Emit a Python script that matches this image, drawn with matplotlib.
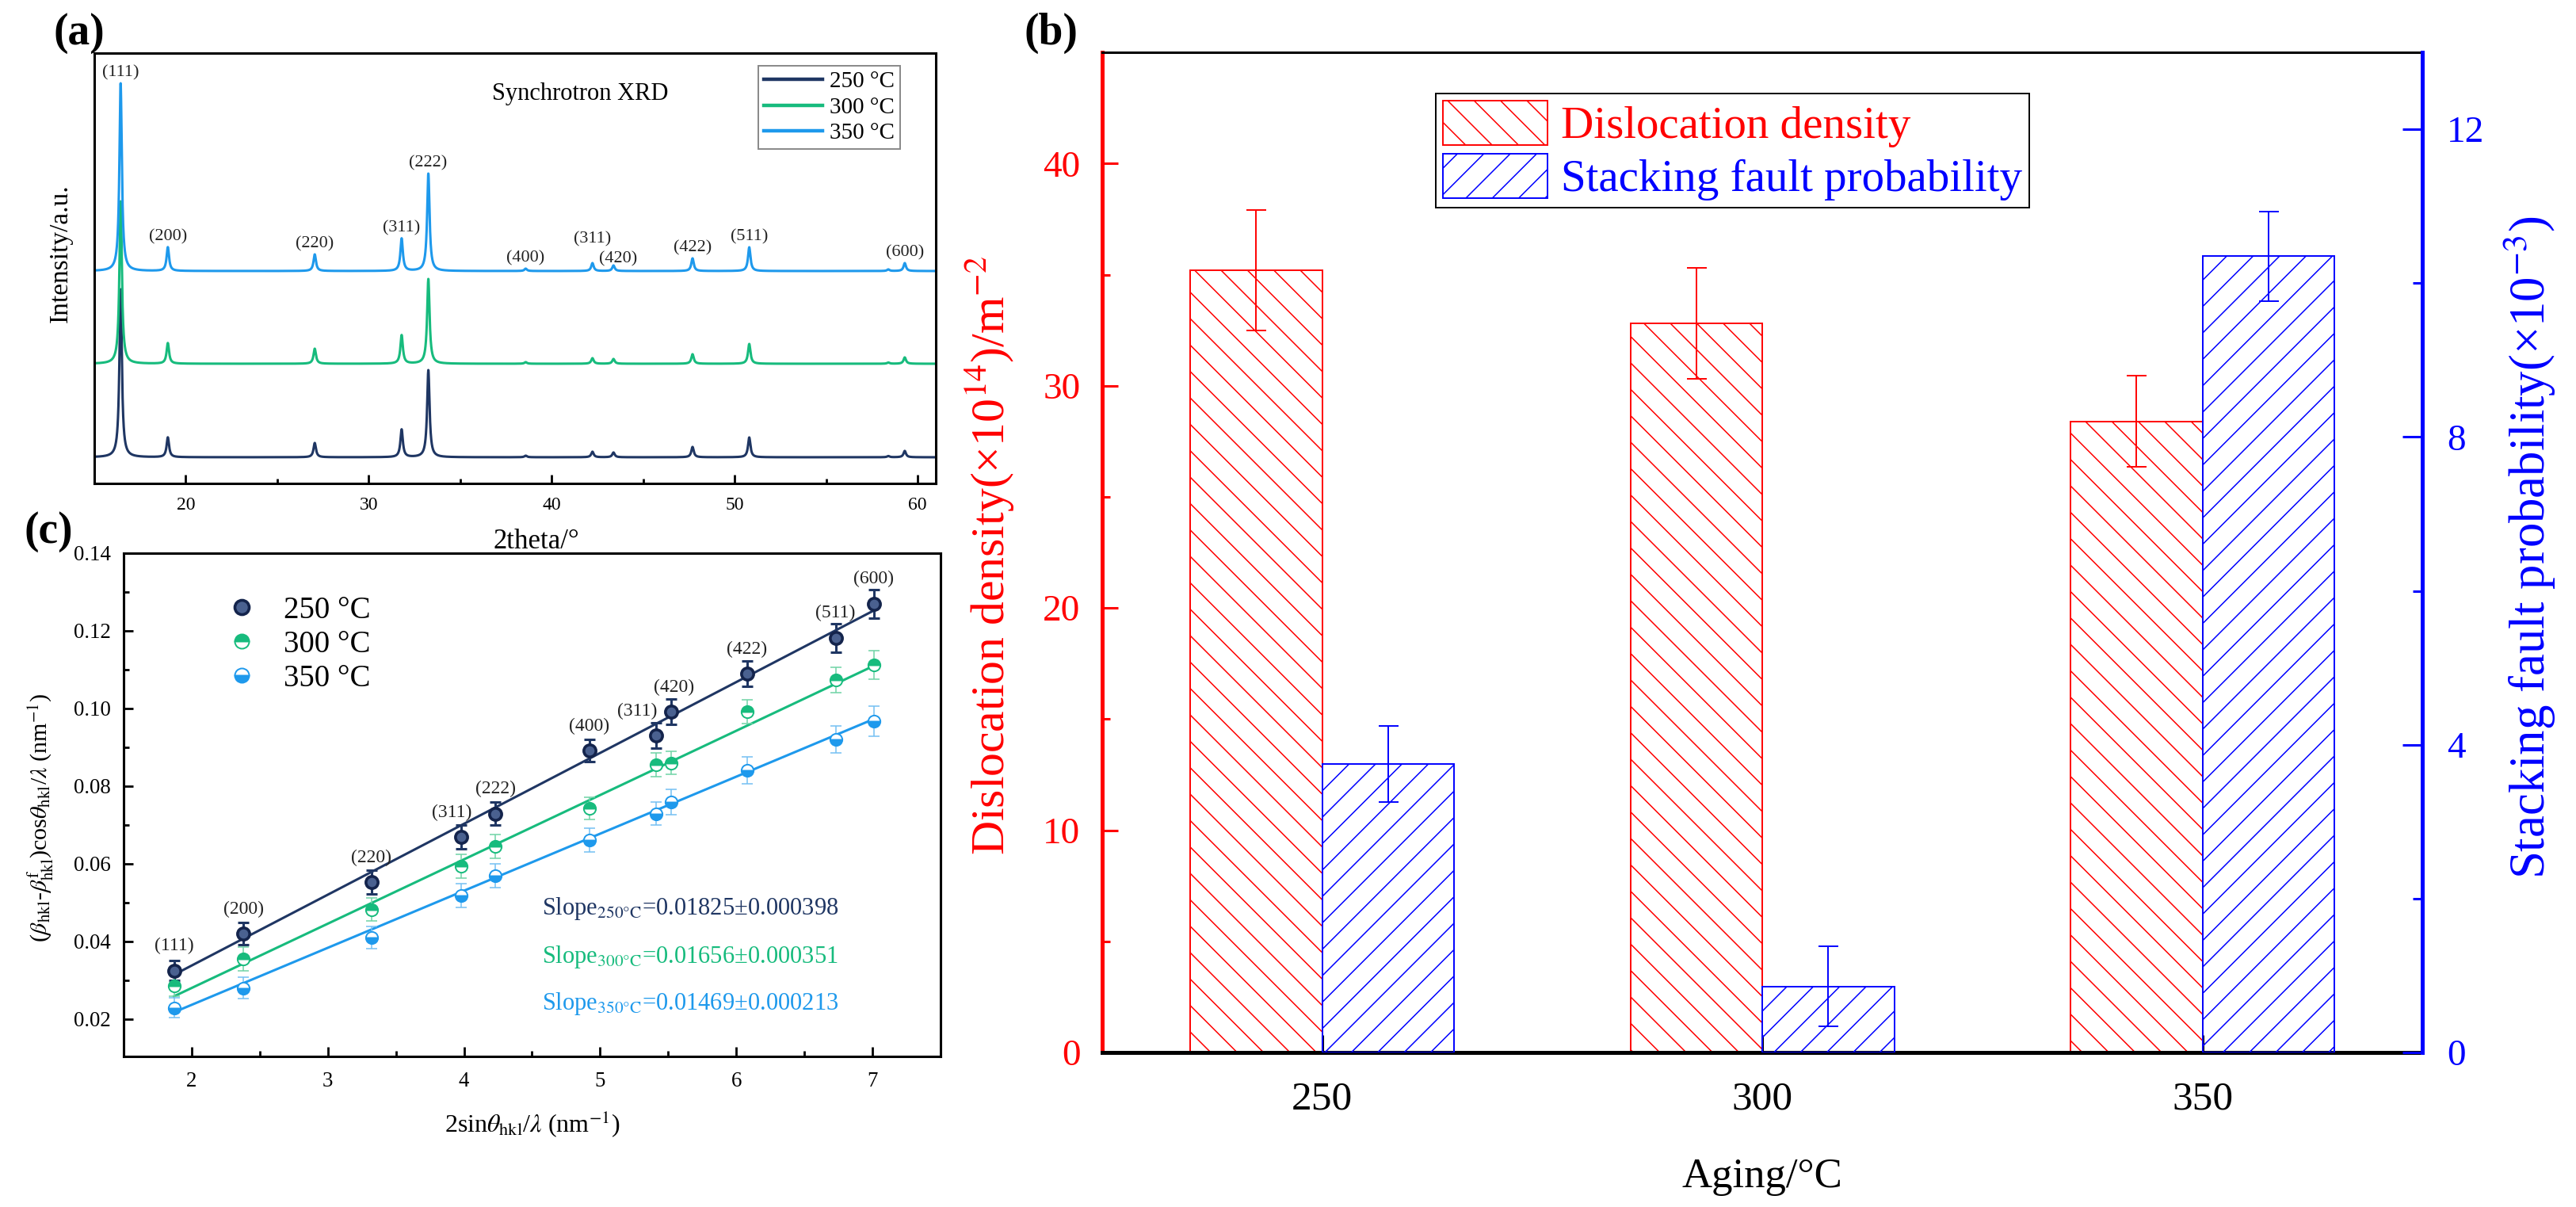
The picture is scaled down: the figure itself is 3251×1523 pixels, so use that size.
import numpy as np
import matplotlib
matplotlib.use('Agg')
import matplotlib.pyplot as plt
from matplotlib.ticker import AutoMinorLocator, FixedLocator, FormatStrFormatter
from matplotlib.lines import Line2D

plt.rcParams['font.family'] = ['Liberation Serif', 'DejaVu Serif']
plt.rcParams['mathtext.fontset'] = 'stix'
plt.rcParams['hatch.linewidth'] = 0.55

# ---------------- data ----------------
temps = ['250 °C', '300 °C', '350 °C']
colors = ['#1f3663', '#17bb7d', '#1e99ec']

# (a) synchrotron XRD peaks (2theta, heights in a.u.)
peak_2theta = [16.44, 19.02, 27.05, 31.80, 33.26, 38.58, 42.23, 43.38, 47.70, 50.80, 58.40, 59.30]
peak_hkl = ['(111)', '(200)', '(220)', '(311)', '(222)', '(400)', '(311)', '(420)', '(422)', '(511)', '', '(600)']
h250 = [212, 25, 18, 35, 110, 2, 7, 6, 13, 25, 1.5, 8]
h300 = [205, 26, 19, 36, 107, 2, 7, 6, 12, 25, 1.5, 8]
h350 = [237, 30, 21, 41, 123, 3, 10, 7, 16, 30, 2, 10]

# (c) Williamson-Hall type plot
hkl_c = ['(111)', '(200)', '(220)', '(311)', '(222)', '(400)', '(311)', '(420)', '(422)', '(511)', '(600)']
x_c = [1.87, 2.38, 3.32, 3.98, 4.23, 4.92, 5.41, 5.52, 6.08, 6.73, 7.01]
y250 = [0.0325, 0.0420, 0.0553, 0.0669, 0.0729, 0.0892, 0.0930, 0.0992, 0.1090, 0.1182, 0.1270]
y300 = [0.0286, 0.0355, 0.0482, 0.0594, 0.0645, 0.0743, 0.0855, 0.0860, 0.0992, 0.1073, 0.1112]
y350 = [0.0229, 0.0280, 0.0410, 0.0518, 0.0569, 0.0661, 0.0729, 0.0759, 0.0840, 0.0920, 0.0967]
e250 = [0.0025, 0.0028, 0.0030, 0.0030, 0.0030, 0.0029, 0.0033, 0.0033, 0.0033, 0.0037, 0.0037]
e300 = [0.0028, 0.0030, 0.0030, 0.0030, 0.0030, 0.0028, 0.0030, 0.0030, 0.0030, 0.0033, 0.0037]
e350 = [0.0025, 0.0028, 0.0028, 0.0030, 0.0030, 0.0030, 0.0030, 0.0032, 0.0035, 0.0035, 0.0039]
slopes = [0.01825, 0.01656, 0.01469]
intercepts = [-0.0027, -0.0051, -0.0057]
slope_txt = ['Slope$_{\\mathrm{250°C}}$=0.01825±0.000398',
             'Slope$_{\\mathrm{300°C}}$=0.01656±0.000351',
             'Slope$_{\\mathrm{350°C}}$=0.01469±0.000213']

# (b) dislocation density / stacking fault probability
aging = ['250', '300', '350']
disloc = [35.2, 32.8, 28.4]
disloc_err = [2.7, 2.5, 2.05]
sfp = [3.75, 0.86, 10.35]
sfp_err = [0.49, 0.52, 0.58]

DPI = 200
fig = plt.figure(figsize=(3251 / DPI, 1523 / DPI), dpi=DPI)

# ---------------- (a) ----------------
ax_a = fig.add_axes([0.0366, 0.5995, 0.3267, 0.3565])
tt = np.linspace(15, 61, 6000)
gam = 0.08
offsets = [0, 118, 235]
for h, off, c, lab in zip([h250, h300, h350], offsets, colors, temps):
    y = off + sum(hi * gam ** 2 / ((tt - p) ** 2 + gam ** 2) for p, hi in zip(peak_2theta, h))
    ax_a.plot(tt, y, color=c, lw=1.1, label=lab)

# hkl labels above the top pattern
nudge = {6: (0.0, 17), 7: (0.25, -5)}
for i, (p, lab, hi) in enumerate(zip(peak_2theta, peak_hkl, h350)):
    if not lab:
        continue
    dx, dy = nudge.get(i, (0.0, 0))
    ax_a.text(p + dx, offsets[2] + hi + 13 + dy, lab, fontsize=8, ha='center', va='center', color='#222222')

ax_a.set_xlim(15, 61)
ax_a.set_ylim(-33, 510)
ax_a.set_yticks([])
ax_a.xaxis.set_minor_locator(AutoMinorLocator(2))
ax_a.tick_params(axis='x', which='major', direction='in', length=4, width=1, labelsize=8.5, pad=6)
ax_a.tick_params(axis='x', which='minor', direction='in', length=2.2, width=1)
for s in ax_a.spines.values():
    s.set_linewidth(1.1)
ax_a.set_xlabel('2theta/°', fontsize=12.5)
ax_a.xaxis.set_label_coords(0.525, -0.105)
ax_a.set_ylabel('Intensity/a.u.', fontsize=12)
ax_a.yaxis.set_label_coords(-0.026, 0.534)
ax_a.text(0.577, 0.906, 'Synchrotron XRD', transform=ax_a.transAxes, fontsize=11, ha='center', va='center')
leg_a = ax_a.legend(loc='upper right', bbox_to_anchor=(0.958, 0.971), borderaxespad=0, fontsize=10.5,
                    fancybox=False, edgecolor='#888888', framealpha=1, handlelength=2.55,
                    labelspacing=0.2, borderpad=0.25, handletextpad=0.3)
leg_a.get_frame().set_linewidth(0.7)
for ln in leg_a.get_lines():
    ln.set_linewidth(1.6)

# ---------------- (c) ----------------
ax_c = fig.add_axes([0.048, 0.1248, 0.3171, 0.4169])
ax_c.patch.set_visible(False)
ecolors = ['#1f3663', '#6fd3a6', '#74c0f3']
elws = [1.1, 0.55, 0.55]
fills = ['full', 'top', 'bottom']
xx = np.array([min(x_c), max(x_c)])
for ys, es, c, ec, elw, fs, k, b in zip([y250, y300, y350], [e250, e300, e350], colors, ecolors,
                                        elws, fills, slopes, intercepts):
    ax_c.plot(xx, k * xx + b, color=c, lw=1.1, zorder=2)
    ax_c.errorbar(x_c, ys, yerr=es, fmt='none', ecolor=ec, elinewidth=elw, capsize=2.5, capthick=elw, zorder=3)
    if fs == 'full':
        ax_c.plot(x_c, ys, ls='none', marker='o', ms=5.5, mfc='#4a6190', mec='#14244c', mew=1.3, zorder=4)
    else:
        ax_c.plot(x_c, ys, ls='none', marker='o', ms=5.5, fillstyle=fs, mfc=c, mfcalt='white',
                  mec=c, mew=0.7, zorder=4)

nudge_c = {3: -0.07, 6: -0.14, 7: 0.02}
for i, (xv, yv, lab) in enumerate(zip(x_c, y250, hkl_c)):
    ax_c.text(xv + nudge_c.get(i, 0.0), yv + 0.0063, lab, fontsize=8.5, ha='center', va='center',
              color='#222222')

for t, c, yy in zip(slope_txt, colors, [0.293, 0.198, 0.104]):
    ax_c.text(0.512, yy, t, transform=ax_c.transAxes, color=c, fontsize=11, ha='left', va='center')

handles_c = []
for c, fs in zip(colors, fills):
    if fs == 'full':
        handles_c.append(Line2D([], [], ls='none', marker='o', ms=6.5, mfc='#4a6190', mec='#14244c', mew=1.3))
    else:
        handles_c.append(Line2D([], [], ls='none', marker='o', ms=6.5, fillstyle=fs, mfc=c,
                                mfcalt='white', mec=c, mew=0.7))
ax_c.legend(handles_c, temps, loc='upper left', bbox_to_anchor=(0.1256, 0.915), borderaxespad=0,
            frameon=False, fontsize=14, handlelength=1.0, handletextpad=0.86, labelspacing=0.15, borderpad=0)

ax_c.set_xlim(1.5, 7.5)
ax_c.set_ylim(0.0104, 0.14)
ax_c.set_xticks([2, 3, 4, 5, 6, 7])
ax_c.set_yticks([0.02, 0.04, 0.06, 0.08, 0.10, 0.12, 0.14])
ax_c.yaxis.set_major_formatter(FormatStrFormatter('%.2f'))
ax_c.xaxis.set_minor_locator(AutoMinorLocator(2))
ax_c.yaxis.set_minor_locator(AutoMinorLocator(2))
ax_c.tick_params(which='major', direction='in', length=4.3, width=1, labelsize=9.7)
ax_c.tick_params(axis='y', which='major', pad=5.8)
ax_c.tick_params(axis='x', which='major', pad=7)
ax_c.tick_params(which='minor', direction='in', length=2.4, width=1)
for s in ax_c.spines.values():
    s.set_linewidth(1.1)
ax_c.set_xlabel(r'2sin$\theta_{\mathrm{hkl}}$/$\lambda$ (nm$^{-1}$)', fontsize=11.5)
ax_c.xaxis.set_label_coords(0.5, -0.105)
ax_c.set_ylabel(r'($\beta_{\mathrm{hkl}}$-$\beta^{\mathrm{f}}_{\mathrm{hkl}}$)cos$\theta_{\mathrm{hkl}}$/$\lambda$ (nm$^{-1}$)',
                fontsize=10.8)
ax_c.yaxis.set_label_coords(-0.083, 0.475)

# ---------------- (b) ----------------
ax_b = fig.add_axes([0.4279, 0.128, 0.5125, 0.8286])
ax_b2 = ax_b.twinx()
xb = np.arange(len(aging))
bars1 = ax_b.bar(xb - 0.15, disloc, 0.3, facecolor='none', edgecolor='red', hatch='\\\\', lw=0.7,
                 label='Dislocation density', zorder=2)
ax_b.errorbar(xb - 0.15, disloc, yerr=disloc_err, fmt='none', ecolor='red', elinewidth=0.7,
              capsize=4.5, capthick=0.7, zorder=3)
bars2 = ax_b2.bar(xb + 0.15, sfp, 0.3, facecolor='none', edgecolor='blue', hatch='//', lw=0.7,
                  label='Stacking fault probability', zorder=2)
ax_b2.errorbar(xb + 0.15, sfp, yerr=sfp_err, fmt='none', ecolor='blue', elinewidth=0.7,
               capsize=4.5, capthick=0.7, zorder=3)

ax_b.set_xlim(-0.5, 2.5)
ax_b.set_ylim(0, 45)
ax_b2.set_ylim(0, 13)
ax_b.set_xticks(xb, aging)
ax_b.set_yticks([0, 10, 20, 30, 40])
ax_b.yaxis.set_minor_locator(FixedLocator([5, 15, 25, 35]))
ax_b2.set_yticks([0, 4, 8, 12])
ax_b2.yaxis.set_minor_locator(FixedLocator([2, 6, 10]))

ax_b.tick_params(axis='y', which='major', colors='red', direction='in', length=7.2, width=1.1,
                 labelsize=17, pad=10)
ax_b.tick_params(axis='y', which='minor', colors='red', direction='in', length=3.6, width=1.1)
ax_b.tick_params(axis='x', direction='in', length=8, width=1.1, labelsize=18.5, pad=13)
ax_b2.tick_params(axis='y', which='major', colors='blue', direction='in', length=9, width=1.1,
                  labelsize=17, pad=11)
ax_b2.tick_params(axis='y', which='minor', colors='blue', direction='in', length=4.3, width=1.1)

ax_b.spines['left'].set_color('red')
ax_b.spines['left'].set_linewidth(1.8)
ax_b.spines['bottom'].set_linewidth(1.8)
ax_b.spines['top'].set_linewidth(1.1)
ax_b.spines['right'].set_visible(False)
for side in ['left', 'bottom', 'top']:
    ax_b2.spines[side].set_visible(False)
ax_b2.spines['right'].set_color('blue')
ax_b2.spines['right'].set_linewidth(1.8)

ax_b.set_ylabel('Dislocation density(×10$^{14}$)/m$^{-2}$', color='red', fontsize=21.5)
ax_b.yaxis.set_label_coords(-0.0654, 0.497)
ax_b2.set_ylabel('Stacking fault probability(×10$^{-3}$)', color='blue', fontsize=22.6)
ax_b2.yaxis.set_label_coords(1.060, 0.505)
ax_b.set_xlabel('Aging/°C', fontsize=19)
ax_b.xaxis.set_label_coords(0.5, -0.105)

leg_b = ax_b2.legend([bars1, bars2], ['Dislocation density', 'Stacking fault probability'],
                     loc='upper left', bbox_to_anchor=(0.2527, 0.9588), borderaxespad=0, fontsize=20.5,
                     labelcolor=['red', 'blue'], fancybox=False, edgecolor='black', framealpha=1,
                     handlelength=2.33, handleheight=1.14, handletextpad=0.3, labelspacing=0.14,
                     borderpad=0.15)
leg_b.get_frame().set_linewidth(0.7)

# panel tags
fig.text(0.0308, 0.9724, '(a)', fontsize=20, fontweight='bold', ha='center', va='center')
fig.text(0.4079, 0.9724, '(b)', fontsize=20, fontweight='bold', ha='center', va='center')
fig.text(0.0188, 0.5594, '(c)', fontsize=20, fontweight='bold', ha='center', va='center')

fig.savefig('out.png', dpi=DPI)
